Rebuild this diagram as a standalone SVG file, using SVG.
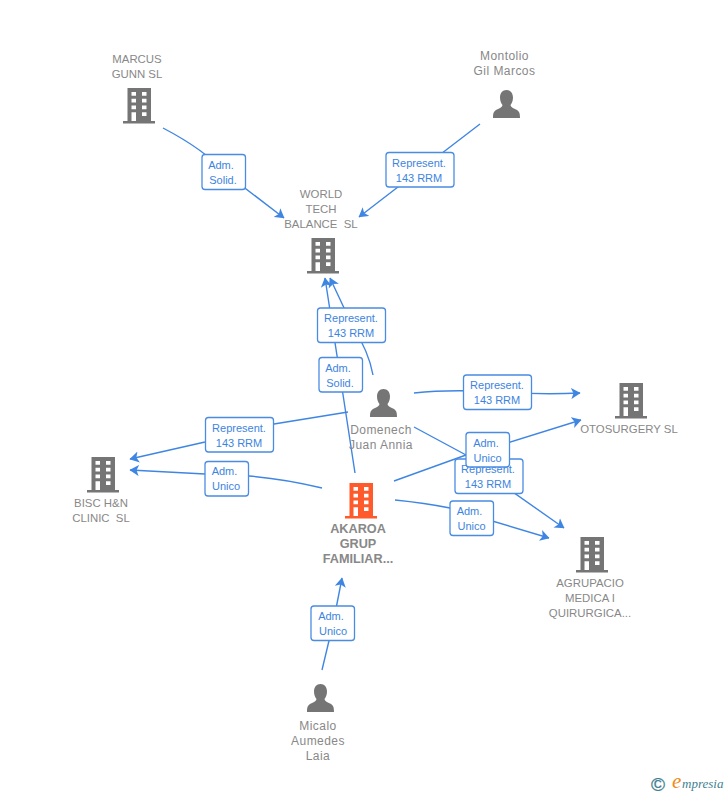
<svg xmlns="http://www.w3.org/2000/svg" width="728" height="795" viewBox="0 0 728 795">
<style>
text{font-family:"Liberation Sans",Arial,sans-serif}
.n{font-size:11.4px;fill:#888;text-anchor:middle}
.p{font-size:12px;letter-spacing:.45px;fill:#888;text-anchor:middle}
.nb{font-size:12.7px;font-weight:bold;fill:#888;text-anchor:middle}
.l{font-size:11px;fill:#3d84e0;text-anchor:middle}
.b{fill:#fff;stroke:#4a8ce2;stroke-width:1.3}
.c{fill:none;stroke:#3f86e3;stroke-width:1.4;marker-end:url(#a)}
</style>
<defs>
<marker id="a" markerUnits="userSpaceOnUse" viewBox="0 0 8 10" refX="7.5" refY="5" markerWidth="9.5" markerHeight="12" orient="auto"><path d="M0,0.300 L8,5 L0,9.700 L2,5z" fill="#3f86e3"/></marker>
<path id="bld" fill-rule="evenodd" d="M4.500,0H28V33H32V35.500H0V33H4.500Z M8.500,4V7.800H13V4Z M19,4V7.800H23.500V4Z M8.500,10.800V14.600H13V10.800Z M19,10.800V14.600H23.500V10.800Z M8.500,17.400V21.200H13V17.400Z M19,17.400V21.200H23.500V17.400Z M8.500,24.200V33H13V24.200Z M19,24.200V28H23.500V24.200Z"/>
<path id="per" d="M13.500,0C17.500,0 20,3 20,7.500C20,11 18.700,13.500 17.500,15C17.500,17 20,18 23,19.500C26,21 27,22.500 27,28H0C0,22.500 1,21 4,19.500C7,18 9.500,17 9.500,15C8.300,13.500 7,11 7,7.500C7,3 9.500,0 13.500,0Z"/>
</defs>
<g id="connectors">
<path class="c" d="M163,128Q205,150 224,172L284,218"/>
<path class="c" d="M480,124L420,170L359,217"/>
<path class="c" d="M373,375Q369,352 352,325L330,278"/>
<path class="c" d="M355,473L340,375L325,278"/>
<path class="c" d="M414,393Q450,389 497,392T580,393"/>
<path class="c" d="M414,427L466,455L490,476L564,528"/>
<path class="c" d="M394,481L466,455L488,449L581,420"/>
<path class="c" d="M395,500Q425,503 450,508L472,515L549,538"/>
<path class="c" d="M348,412L274,424L205,442L130,459"/>
<path class="c" d="M322,488Q285,479 249,476L205,474L130,470"/>
<path class="c" d="M322,670L333,624L342,578"/>
</g>
<g id="node-marcus" fill="#757575"><use href="#bld" x="123" y="88"/><text class="n" x="137" y="63">MARCUS</text><text class="n" x="137" y="78">GUNN SL</text></g>
<g id="node-montolio" fill="#757575"><use href="#per" x="493" y="90"/><text class="p" x="504.500" y="60">Montolio</text><text class="p" x="504.500" y="75">Gil Marcos</text></g>
<g id="node-world" fill="#757575"><use href="#bld" x="307" y="238"/><text class="n" x="321" y="198">WORLD</text><text class="n" x="321" y="213">TECH</text><text class="n" x="321" y="228" xml:space="preserve">BALANCE  SL</text></g>
<g id="node-domenech" fill="#757575"><use href="#per" x="370" y="389"/><text class="p" x="381" y="434">Domenech</text><text class="p" x="381" y="449">Juan Annia</text></g>
<g id="node-otosurgery" fill="#757575"><use href="#bld" x="615" y="383"/><text class="n" x="629" y="433">OTOSURGERY SL</text></g>
<g id="node-bisc" fill="#757575"><use href="#bld" x="87" y="457"/><text class="n" x="101" y="507">BISC H&amp;N</text><text class="n" x="101" y="522" xml:space="preserve">CLINIC  SL</text></g>
<g id="node-akaroa" fill="#ff5a2b"><use href="#bld" x="345" y="483"/><text class="nb" x="358" y="533">AKAROA</text><text class="nb" x="358" y="548">GRUP</text><text class="nb" x="358" y="563">FAMILIAR...</text></g>
<g id="node-agrupacio" fill="#757575"><use href="#bld" x="576" y="537"/><text class="n" x="590" y="587">AGRUPACIO</text><text class="n" x="590" y="602">MEDICA I</text><text class="n" x="590" y="617">QUIRURGICA...</text></g>
<g id="node-micalo" fill="#757575"><use href="#per" x="307" y="684"/><text class="p" x="318" y="730">Micalo</text><text class="p" x="318" y="745">Aumedes</text><text class="p" x="318" y="760">Laia</text></g>
<g id="edge-labels">
<g><rect class="b" x="202" y="154.500" width="43.500" height="35" rx="3"/><text class="l" x="221" y="168.500">Adm.</text><text class="l" x="223" y="183.500">Solid.</text></g>
<g><rect class="b" x="386" y="152.500" width="68" height="34.500" rx="3"/><text class="l" x="419" y="166.500">Represent.</text><text class="l" x="419" y="181.500">143 RRM</text></g>
<g><rect class="b" x="317.500" y="308" width="68" height="34.500" rx="3"/><text class="l" x="351" y="322">Represent.</text><text class="l" x="351" y="337">143 RRM</text></g>
<g><rect class="b" x="319" y="357.500" width="43.500" height="34.500" rx="3"/><text class="l" x="338" y="371.500">Adm.</text><text class="l" x="340" y="386.500">Solid.</text></g>
<g><rect class="b" x="463.500" y="375" width="68" height="34.500" rx="3"/><text class="l" x="497" y="388.500">Represent.</text><text class="l" x="497" y="403.500">143 RRM</text></g>
<g><rect class="b" x="455" y="459" width="68" height="34.500" rx="3"/><text class="l" x="488" y="472.500">Represent.</text><text class="l" x="488" y="487.500">143 RRM</text></g>
<g><rect class="b" x="466" y="432.500" width="43.500" height="34.500" rx="3"/><text class="l" x="486" y="446.500">Adm.</text><text class="l" x="487.500" y="461.500">Unico</text></g>
<g><rect class="b" x="450" y="501" width="43.500" height="34.500" rx="3"/><text class="l" x="469.500" y="515">Adm.</text><text class="l" x="471.500" y="530">Unico</text></g>
<g><rect class="b" x="205.500" y="417.500" width="68" height="34.500" rx="3"/><text class="l" x="239" y="431.500">Represent.</text><text class="l" x="239" y="446.500">143 RRM</text></g>
<g><rect class="b" x="205" y="461.500" width="43.500" height="34.500" rx="3"/><text class="l" x="224.500" y="475">Adm.</text><text class="l" x="226" y="490">Unico</text></g>
<g><rect class="b" x="311" y="606" width="43.500" height="34.500" rx="3"/><text class="l" x="331" y="620">Adm.</text><text class="l" x="333" y="635">Unico</text></g>
</g>
<g id="logo"><text x="651" y="791" font-size="19" fill="#3f7f93" stroke="#3f7f93" stroke-width=".3">©</text><text x="672" y="788" font-size="21" font-style="italic" fill="#f08a1c" style="font-family:'Liberation Serif',serif">e</text><text x="682" y="788" font-size="13" font-style="italic" fill="#3f7f93" style="font-family:'Liberation Serif',serif">mpresia</text></g>
</svg>
